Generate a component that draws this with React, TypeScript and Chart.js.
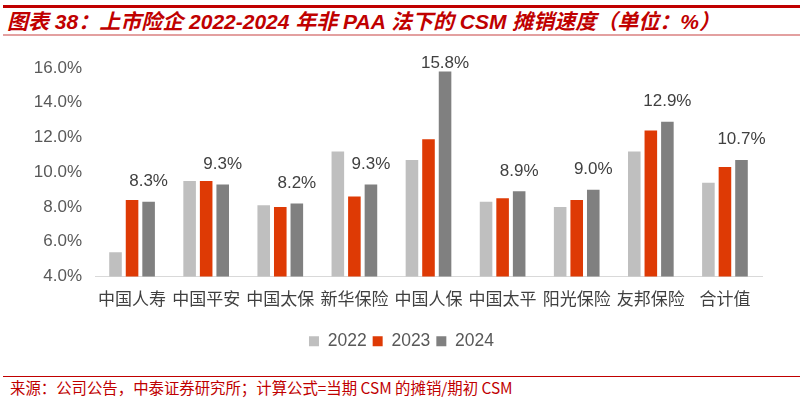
import React, { useEffect, useRef } from "react";
import { Chart, registerables } from "chart.js";
Chart.register(...registerables);

const categories = ["中国人寿", "中国平安", "中国太保", "新华保险", "中国人保", "中国太平", "阳光保险", "友邦保险", "合计值"];
const seriesNames = ["2022", "2023", "2024"];
const values2022 = [5.4, 9.5, 8.1, 11.2, 10.7, 8.3, 8.0, 11.2, 9.4];
const values2023 = [8.4, 9.5, 8.0, 8.6, 11.9, 8.5, 8.4, 12.4, 10.3];
const values2024 = [8.3, 9.3, 8.2, 9.3, 15.8, 8.9, 9.0, 12.9, 10.7];
const yMin = 4;
const yMax = 16;
const yStep = 2;

const colors = ["#BFBFBF", "#DE3A05", "#808080"];
const SANS = "'Liberation Sans', Arial, sans-serif";
const CJK = "'Noto Sans CJK SC', sans-serif";

const labelPlugin = {
  id: "lastSeriesLabels",
  afterDatasetsDraw(chart: any) {
    const ctx = chart.ctx;
    const meta = chart.getDatasetMeta(2);
    const data = chart.data.datasets[2].data as number[];
    ctx.save();
    ctx.font = `17px ${SANS}`;
    ctx.fillStyle = "#404040";
    ctx.textAlign = "center";
    ctx.textBaseline = "bottom";
    meta.data.forEach((bar: any, i: number) => {
      const y = Math.max(bar.y - 12, chart.chartArea.top + 4);
      ctx.fillText(data[i].toFixed(1) + "%", bar.x, y);
    });
    ctx.restore();
  },
};

export default function App() {
  const ref = useRef<HTMLCanvasElement>(null);
  useEffect(() => {
    const chart = new Chart(ref.current!, {
      type: "bar",
      data: {
        labels: categories,
        datasets: [values2022, values2023, values2024].map((d, i) => ({
          label: seriesNames[i],
          data: d,
          backgroundColor: colors[i],
          borderWidth: 0,
          categoryPercentage: 0.67,
          barPercentage: 0.76,
        })),
      },
      options: {
        animation: false,
        responsive: false,
        devicePixelRatio: 1,
        layout: { padding: { top: 27, right: 0, left: 0, bottom: 0 } },
        plugins: {
          tooltip: { enabled: false },
          legend: {
            position: "bottom",
            labels: {
              boxWidth: 10,
              boxHeight: 10,
              padding: 6,
              color: "#595959",
              font: { size: 17.5, family: SANS },
            },
          },
        },
        scales: {
          x: {
            grid: { display: false, drawTicks: false },
            border: { display: true, color: "#D9D9D9", width: 1 },
            ticks: {
              autoSkip: false,
              maxRotation: 0,
              padding: 12,
              color: "#404040",
              font: { size: 17, family: CJK },
            },
            afterFit: (s: any) => {
              s.height = 50;
            },
          },
          y: {
            min: yMin,
            max: yMax,
            grid: { display: false, drawTicks: false },
            border: { display: false },
            ticks: {
              stepSize: yStep,
              padding: 13,
              color: "#595959",
              font: { size: 17, family: SANS },
              callback: (v: any) => Number(v).toFixed(1) + "%",
            },
            afterFit: (s: any) => {
              s.width = 95;
            },
          },
          yRight: {
            position: "right",
            min: yMin,
            max: yMax,
            grid: { display: false, drawTicks: false },
            border: { display: false },
            ticks: { display: false },
            afterFit: (s: any) => {
              s.width = 41;
            },
          },
        },
      },
      plugins: [labelPlugin],
    });
    return () => chart.destroy();
  }, []);

  return (
    <div style={{ position: "absolute", left: 0, top: 0, width: 803, height: 400, background: "#fff", overflow: "hidden" }}>
      <div style={{ position: "absolute", left: 3, right: 3, top: 5, height: 3, background: "#C00000" }} />
      <div
        style={{
          position: "absolute",
          left: 7,
          top: 9,
          fontFamily: `${SANS}, ${CJK}`,
          fontStyle: "italic",
          fontWeight: "bold",
          fontSize: 21,
          color: "#C00000",
          whiteSpace: "nowrap",
          lineHeight: "26px",
        }}
      >
        图表 38：上市险企 2022-2024 年非 PAA 法下的 CSM 摊销速度（单位：%）
      </div>
      <div style={{ position: "absolute", left: 3, right: 3, top: 34, height: 2, background: "#E3A0A0" }} />
      <canvas ref={ref} width={803} height={319} style={{ position: "absolute", left: 0, top: 41, width: 803, height: 319 }} />
      <div style={{ position: "absolute", left: 3, right: 3, top: 376, height: 1, background: "#C00000" }} />
      <div
        style={{
          position: "absolute",
          left: 10,
          top: 377,
          fontFamily: `${CJK}`,
          fontSize: 15.4,
          color: "#C00000",
          whiteSpace: "nowrap",
          lineHeight: "20px",
        }}
      >
        来源：公司公告，中泰证券研究所；计算公式=当期 CSM 的摊销/期初 CSM
      </div>
    </div>
  );
}
